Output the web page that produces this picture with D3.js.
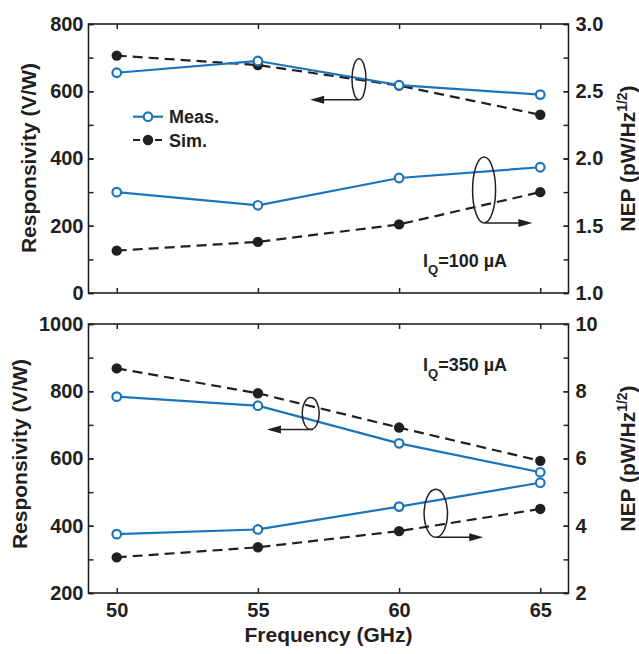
<!DOCTYPE html>
<html>
<head>
<meta charset="utf-8">
<script src="https://cdn.jsdelivr.net/npm/d3@7"></script>
<style>
  body { margin: 0; background: #fff; }
  svg { display: block; font-family: "Liberation Sans", Arial, sans-serif; font-weight: bold; }
</style>
</head>
<body>
<div id="chart-container"></div>
<script>
// data
var freq = [50, 55, 60, 65];

// I_Q = 100 uA
var respMeas100 = [655, 690, 618, 590];
var respSim100 = [706, 678, 617, 530];
var nepMeas100 = [1.75, 1.652, 1.855, 1.935];
var nepSim100 = [1.315, 1.38, 1.51, 1.75];

// I_Q = 350 uA
var respMeas350 = [784, 757, 645, 559];
var respSim350 = [868, 794, 692, 593];
var nepMeas350 = [3.75, 3.89, 4.57, 5.28];
var nepSim350 = [3.06, 3.36, 3.84, 4.50];

var xTicks = [50, 55, 60, 65];
var respTicks100 = [0, 200, 400, 600, 800];
var nepTicks100 = [1.0, 1.5, 2.0, 2.5, 3.0];
var respTicks350 = [200, 400, 600, 800, 1000];
var nepTicks350 = [2, 4, 6, 8, 10];

var blue = "#1b75bb", black = "#231f20";

var W = 639, H = 654;
var left = 88.5, right = 568.5;

var svg = d3.select("#chart-container")
    .append("svg")
    .attr("width", W)
    .attr("height", H);

var x = d3.scaleLinear().domain([49, 66]).range([left, right]);

function drawPanel(p) {
    var yL = d3.scaleLinear().domain(p.leftDomain).range([p.bottom, p.top]);
    var yR = d3.scaleLinear().domain(p.rightDomain).range([p.bottom, p.top]);
    var g = svg.append("g");

    // minor ticks (no labels)
    g.append("g").attr("transform", "translate(" + left + ",0)")
        .call(d3.axisLeft(yL).tickValues(d3.range(p.leftDomain[0], p.leftDomain[1] + 1, p.leftMinor)).tickSize(-5).tickSizeOuter(0).tickFormat(""))
        .call(styleAxis);
    g.append("g").attr("transform", "translate(" + right + ",0)")
        .call(d3.axisRight(yR).tickValues(d3.range(0, 9).map(function (i) { return p.rightDomain[0] + i * p.rightMinor; })).tickSize(-5).tickSizeOuter(0).tickFormat(""))
        .call(styleAxis);

    // labelled axes
    g.append("g").attr("class", "y-left").attr("transform", "translate(" + left + ",0)")
        .call(d3.axisLeft(yL).tickValues(p.leftTicks).tickSize(-5).tickSizeOuter(0).tickPadding(5)
            .tickFormat(d3.format("d")))
        .call(styleAxis);
    g.append("g").attr("class", "y-right").attr("transform", "translate(" + right + ",0)")
        .call(d3.axisRight(yR).tickValues(p.rightTicks).tickSize(-5).tickSizeOuter(0).tickPadding(7)
            .tickFormat(p.rightFormat))
        .call(styleAxis);
    g.append("g").attr("transform", "translate(0," + p.top + ")")
        .call(d3.axisTop(x).tickValues(xTicks).tickSize(-5).tickSizeOuter(0).tickFormat(""))
        .call(styleAxis);
    g.append("g").attr("transform", "translate(0," + p.bottom + ")")
        .call(d3.axisBottom(x).tickValues(xTicks).tickSize(-5).tickSizeOuter(0).tickPadding(10)
            .tickFormat(p.showX ? d3.format("d") : ""))
        .call(styleAxis);

    // frame
    g.append("rect")
        .attr("x", left).attr("y", p.top)
        .attr("width", right - left).attr("height", p.bottom - p.top)
        .attr("fill", "none").attr("stroke", black).attr("stroke-width", 1.6);

    // series
    drawSeries(g, p.respSim, yL, false);
    drawSeries(g, p.nepSim, yR, false);
    drawSeries(g, p.respMeas, yL, true);
    drawSeries(g, p.nepMeas, yR, true);

    // axis titles
    g.append("text")
        .attr("transform", "translate(" + p.leftTitleX + "," + p.leftTitleY + ") rotate(-90)")
        .attr("text-anchor", "middle")
        .style("font-size", "21px")
        .attr("fill", black)
        .text("Responsivity (V/W)");
    var rt = g.append("text")
        .attr("transform", "translate(635," + ((p.top + p.bottom) / 2) + ") rotate(-90)")
        .attr("text-anchor", "middle")
        .style("font-size", "21px")
        .attr("fill", black);
    rt.append("tspan").text("NEP (pW/Hz");
    rt.append("tspan").attr("dy", -8).style("font-size", "14px").text("1/2");
    rt.append("tspan").attr("dy", 8).text(")");

    // current label
    var lab = g.append("text")
        .attr("x", 423).attr("y", p.labelY)
        .style("font-size", "18px")
        .attr("fill", black);
    lab.append("tspan").text("I");
    lab.append("tspan").attr("dy", 7).style("font-size", "13px").text("Q");
    lab.append("tspan").attr("dy", -7).text("=" + p.current + " \u00b5A");

    // ellipses with arrows
    p.notes.forEach(function (n) {
        var ys = n.axis === "left" ? yL : yR;
        var cx = x(n.cx), cy = ys(n.cy);
        g.append("ellipse")
            .attr("cx", cx).attr("cy", cy)
            .attr("rx", n.rx).attr("ry", n.ry)
            .attr("fill", "none").attr("stroke", black).attr("stroke-width", 1.5);
        var ay = cy + n.ry;
        var x0 = x(n.x0), x1 = x(n.x1);
        var dir = x1 > x0 ? 1 : -1;
        g.append("line")
            .attr("x1", x0).attr("y1", ay)
            .attr("x2", x1 - dir * 8).attr("y2", ay)
            .attr("stroke", black).attr("stroke-width", 1.5);
        g.append("path")
            .attr("d", "M" + x1 + "," + ay + "L" + (x1 - dir * 14) + "," + (ay - 4) + "L" + (x1 - dir * 14) + "," + (ay + 4) + "Z")
            .attr("fill", black);
    });
}

function styleAxis(ax) {
    ax.select(".domain").remove();
    ax.selectAll(".tick line").attr("stroke", black).attr("stroke-width", 1.5);
    ax.selectAll(".tick text")
        .attr("fill", black)
        .style("font-size", "20px")
        .style("font-family", "'Liberation Sans', Arial, sans-serif")
        .style("font-weight", "bold");
}

function drawSeries(g, vals, ys, meas) {
    var pts = freq.map(function (f, i) { return { f: f, v: vals[i] }; });
    var line = d3.line()
        .x(function (d) { return x(d.f); })
        .y(function (d) { return ys(d.v); });
    g.append("path")
        .datum(pts)
        .attr("fill", "none")
        .attr("stroke", meas ? blue : black)
        .attr("stroke-width", 2.2)
        .attr("stroke-dasharray", meas ? null : "10,6")
        .attr("d", line);
    g.selectAll(null)
        .data(pts)
        .enter().append("circle")
        .attr("cx", function (d) { return x(d.f); })
        .attr("cy", function (d) { return ys(d.v); })
        .attr("r", meas ? 4.3 : 5.2)
        .attr("fill", meas ? "#fff" : black)
        .attr("stroke", meas ? blue : "none")
        .attr("stroke-width", 2.2);
}

drawPanel({
    top: 24, bottom: 293,
    leftDomain: [0, 800], rightDomain: [1, 3],
    leftMinor: 100, rightMinor: 0.25,
    leftTicks: respTicks100, rightTicks: nepTicks100,
    rightFormat: d3.format(".1f"),
    showX: false,
    respMeas: respMeas100, respSim: respSim100,
    nepMeas: nepMeas100, nepSim: nepSim100,
    leftTitleX: 36, leftTitleY: 158,
    labelY: 267, current: 100,
    notes: [
        { axis: "left", cx: 58.58, cy: 636, rx: 7, ry: 20.5, x0: 58.58, x1: 56.85 },
        { axis: "right", cx: 63.01, cy: 1.766, rx: 11.5, ry: 33, x0: 63.05, x1: 64.72 }
    ]
});

drawPanel({
    top: 324, bottom: 593,
    leftDomain: [200, 1000], rightDomain: [2, 10],
    leftMinor: 100, rightMinor: 1,
    leftTicks: respTicks350, rightTicks: nepTicks350,
    rightFormat: d3.format("d"),
    showX: true,
    respMeas: respMeas350, respSim: respSim350,
    nepMeas: nepMeas350, nepSim: nepSim350,
    leftTitleX: 27, leftTitleY: 454,
    labelY: 371, current: 350,
    notes: [
        { axis: "left", cx: 56.87, cy: 734, rx: 8.5, ry: 16, x0: 56.95, x1: 55.32 },
        { axis: "right", cx: 61.30, cy: 4.37, rx: 11.7, ry: 24, x0: 61.35, x1: 62.98 }
    ]
});

// legend
var legend = svg.append("g");
[{ name: "Meas.", meas: true, y: 116.7 }, { name: "Sim.", meas: false, y: 140 }].forEach(function (d) {
    legend.append("line")
        .attr("x1", 133).attr("x2", 163).attr("y1", d.y).attr("y2", d.y)
        .attr("stroke", d.meas ? blue : black).attr("stroke-width", 2.2)
        .attr("stroke-dasharray", d.meas ? null : "7,4");
    legend.append("circle")
        .attr("cx", 148).attr("cy", d.y)
        .attr("r", d.meas ? 4.3 : 5.2)
        .attr("fill", d.meas ? "#fff" : black)
        .attr("stroke", d.meas ? blue : "none")
        .attr("stroke-width", 2.2);
    legend.append("text")
        .attr("x", 169).attr("y", d.y + 6.5)
        .style("font-size", "18px")
        .attr("fill", black)
        .text(d.name);
});

svg.append("text")
    .attr("x", (left + right) / 2).attr("y", 642)
    .attr("text-anchor", "middle")
    .style("font-size", "21px")
    .attr("fill", black)
    .text("Frequency (GHz)");
</script>
</body>
</html>
